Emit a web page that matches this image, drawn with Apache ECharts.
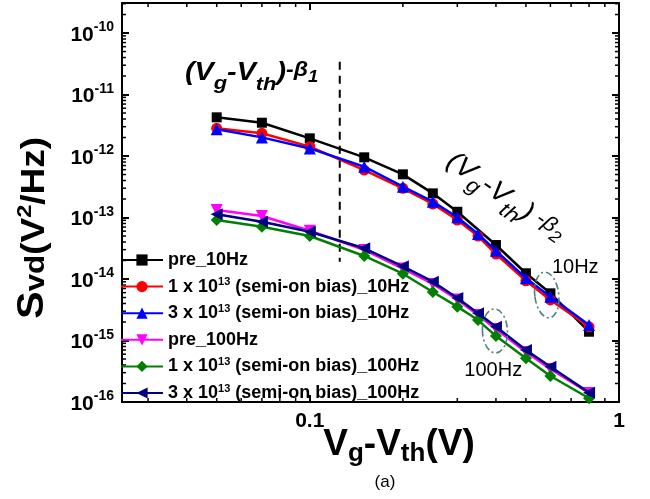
<!DOCTYPE html>
<html><head><meta charset="utf-8">
<script src="https://cdn.jsdelivr.net/npm/echarts@6/dist/echarts.min.js"></script>
<style>html,body{margin:0;padding:0;background:#fff}#c{width:650px;height:499px}</style>
</head><body><div id="c"></div>
<script>
// ---------------- data ----------------
const xValues = [0.05, 0.07, 0.1, 0.15, 0.2, 0.25, 0.3, 0.35, 0.4, 0.5, 0.6, 0.8];
const pre10Hz      = [4.26e-12, 3.48e-12, 1.94e-12, 9.53e-13, 5.04e-13, 2.47e-13, 1.24e-13, null,     3.57e-14, 1.24e-14, 5.85e-15, 1.39e-15];
const irr1e13_10Hz = [2.82e-12, 2.34e-12, 1.42e-12, 5.91e-13, 2.99e-13, 1.66e-13, 9.1e-14,  5.0e-14,  2.55e-14, 9.37e-15, 4.56e-15, 1.67e-15];
const irr3e13_10Hz = [2.72e-12, 2.01e-12, 1.33e-12, 6.70e-13, 3.17e-13, 1.81e-13, 1.01e-13, 5.40e-14, 2.88e-14, 1.03e-14, 5.15e-15, 1.79e-15];
const pre100Hz      = [1.32e-13, 1.06e-13, 6.1e-14,  2.97e-14, 1.48e-14, 8.3e-15,  4.65e-15, 2.60e-15, 1.54e-15, 6.5e-16,  3.44e-16, 1.40e-16];
const irr1e13_100Hz = [9.1e-14,  7.08e-14, 5.0e-14,  2.37e-14, 1.22e-14, 6.15e-15, 3.55e-15, 2.15e-15, 1.18e-15, 5.14e-16, 2.65e-16, 1.15e-16];
const irr3e13_100Hz = [1.13e-13, 8.55e-14, 5.87e-14, 3.16e-14, 1.61e-14, 9.04e-15, 4.91e-15, 2.77e-15, 1.67e-15, 7.02e-16, 3.75e-16, 1.42e-16];
const seriesNames = ['pre_10Hz', '1 x 10^13 (semi-on bias)_10Hz', '3 x 10^13 (semi-on bias)_10Hz',
                     'pre_100Hz', '1 x 10^13 (semi-on bias)_100Hz', '3 x 10^13 (semi-on bias)_100Hz'];
const xTickLabels = ['0.1', '1'];
const xMin = 0.0247, xMax = 1;
const yMin = 1e-16, yMax = 3.08e-10;
// annotation anchors (data coordinates)
const dashLineX = 0.125;
const dashLineY = [3.4e-11, 1.9e-14];
const ellipseCenters = [[0.584, 5.5e-15], [0.397, 1.43e-15]];
const freqLabels = [{text: '10Hz', x: 0.722, y: 1.55e-14}, {text: '100Hz', x: 0.392, y: 3.3e-16}];

// ---------------- chart ----------------
const FONT = '"Liberation Sans", Arial, sans-serif';
const chart = echarts.init(document.getElementById('c'), null, {renderer: 'canvas'});
const allY = [pre10Hz, irr1e13_10Hz, irr3e13_10Hz, pre100Hz, irr1e13_100Hz, irr3e13_100Hz];
const styles = [
  {color: '#000000', symbol: 'rect', size: 10, rot: 0},
  {color: '#ff0000', symbol: 'circle', size: 11, rot: 0},
  {color: '#0000ff', symbol: 'triangle', size: 12, rot: 0},
  {color: '#ff00ff', symbol: 'triangle', size: 12, rot: 180},
  {color: '#008000', symbol: 'diamond', size: 12, rot: 0},
  {color: '#000080', symbol: 'triangle', size: 12, rot: 90}
];
const series = allY.map((ys, i) => ({
  name: seriesNames[i], type: 'line',
  xAxisIndex: 0, yAxisIndex: 0,
  data: xValues.map((x, j) => [x, ys[j]]).filter(p => p[1] != null),
  symbol: styles[i].symbol, symbolSize: styles[i].size, symbolRotate: styles[i].rot,
  lineStyle: {color: styles[i].color, width: 2.5},
  itemStyle: {color: styles[i].color},
  animation: false, z: 2 + i
}));
series.push({
  name: 'dash', type: 'line', xAxisIndex: 0, yAxisIndex: 0,
  data: [[dashLineX, dashLineY[0]], [dashLineX, dashLineY[1]]],
  symbol: 'none', lineStyle: {color: '#000', width: 2, type: [8, 6]}, animation: false, z: 1
});

function isPow(v) { const l = Math.log10(v); return Math.abs(l - Math.round(l)) < 1e-6; }

const axisCommon = {
  axisLine: {show: true, onZero: false, lineStyle: {color: '#000', width: 2}},
  axisTick: {show: true, inside: true, length: 7, lineStyle: {color: '#000', width: 2}},
  splitLine: {show: false}, minorTick: {show: false}
};

chart.setOption({
  animation: false,
  backgroundColor: '#fff',
  grid: {left: 122, right: 31, top: 3, bottom: 97, containLabel: false, outerBoundsMode: 'none'},
  xAxis: [
    Object.assign({type: 'log', logBase: 10, min: xMin, max: xMax, position: 'bottom',
      axisLabel: {show: true, margin: 9, color: '#000', fontSize: 21, fontWeight: 'bold', fontFamily: FONT,
        showMinLabel: false,
        formatter: v => { if (!isPow(v)) return ''; const s = String(+v.toPrecision(3)); return xTickLabels.includes(s) ? s : ''; }}
    }, axisCommon),
    Object.assign({type: 'log', logBase: 10, min: xMin, max: xMax, position: 'top', axisLabel: {show: false}}, axisCommon)
  ],
  yAxis: [
    Object.assign({type: 'log', logBase: 10, min: yMin, max: yMax, position: 'left',
      axisLabel: {show: true, margin: 8, color: '#000', fontFamily: FONT, showMaxLabel: false,
        formatter: v => isPow(v) ? '{b|10}{e|' + Math.round(Math.log10(v)) + '}' : '',
        rich: {
          b: {fontSize: 21, fontWeight: 'bold', fontFamily: FONT, color: '#000', lineHeight: 25, verticalAlign: 'bottom'},
          e: {fontSize: 14, fontWeight: 'bold', fontFamily: FONT, color: '#000', lineHeight: 14, verticalAlign: 'top'}
        }}
    }, axisCommon),
    Object.assign({type: 'log', logBase: 10, min: yMin, max: yMax, position: 'right', axisLabel: {show: false}}, axisCommon)
  ],
  legend: {
    data: seriesNames, orient: 'vertical', left: 120, top: 250, padding: 0,
    itemWidth: 42, itemHeight: 14, itemGap: 6.6,
    textStyle: {fontSize: 18, fontWeight: 'bold', fontFamily: FONT, color: '#000', lineHeight: 20,
      rich: {sup: {fontSize: 11, fontWeight: 'bold', fontFamily: FONT, color: '#000', lineHeight: 11, verticalAlign: 'top'}}},
    formatter: n => n.replace('10^13', '10{sup|13}'),
    selectedMode: false
  },
  series: series
});

// ---------------- graphics ----------------
const X = v => chart.convertToPixel({xAxisIndex: 0}, v);
const Y = v => chart.convertToPixel({yAxisIndex: 0}, v);
const gL = X(xMin), gR = X(xMax), gT = Y(yMax), gB = Y(yMin);
const g = [];
const tickStyle = {stroke: '#000', lineWidth: 1.5};
const xMinor = [];
for (let e = -2; e <= -1; e++) for (let k = 2; k <= 9; k++) { const v = k * Math.pow(10, e); if (v > xMin && v < xMax) xMinor.push(v); }
xMinor.forEach(v => {
  const p = X(v);
  g.push({type: 'line', silent: true, shape: {x1: p, y1: gB, x2: p, y2: gB - 4}, style: tickStyle});
  g.push({type: 'line', silent: true, shape: {x1: p, y1: gT, x2: p, y2: gT + 4}, style: tickStyle});
});
const yMinor = [];
for (let e = -16; e <= -10; e++) for (let k = 2; k <= 9; k++) { const v = k * Math.pow(10, e); if (v > yMin && v < yMax) yMinor.push(v); }
yMinor.forEach(v => {
  const p = Y(v);
  g.push({type: 'line', silent: true, shape: {x1: gL, y1: p, x2: gL + 4, y2: p}, style: tickStyle});
  g.push({type: 'line', silent: true, shape: {x1: gR, y1: p, x2: gR - 4, y2: p}, style: tickStyle});
});

function richText(tokens, opt) {
  let B = 0;
  tokens.forEach(t => { B = Math.max(B, 0.85 * t.fs - t.off); });
  let text = ''; const rich = {};
  tokens.forEach((t, i) => {
    const name = 't' + i;
    rich[name] = {fontSize: t.fs, fontFamily: FONT, fontWeight: opt.weight || 'normal', fontStyle: opt.style || 'normal',
      lineHeight: t.fs, padding: [B + t.off - 0.85 * t.fs, 0, 0, 0], verticalAlign: 'top', fill: '#000'};
    text += '{' + name + '|' + t.t + '}';
  });
  return {text, rich, B};
}
function addText(x, baseline, tokens, opt) {
  const r = richText(tokens, opt);
  g.push({type: 'text', silent: true, x: x, y: baseline, rotation: opt.rotation || 0,
    scaleX: opt.scaleX || 1,
    style: {text: r.text, rich: r.rich, x: 0, y: -r.B, align: opt.align || 'left', verticalAlign: 'top', fill: '#000'}, z: 50});
}
// annotation 1: (Vg-Vth)^-β1
addText(185, 82, [
  {t: '(V', fs: 25, off: 0}, {t: 'g', fs: 19, off: 8}, {t: '-V', fs: 25, off: 0},
  {t: 'th', fs: 19, off: 9}, {t: ')', fs: 25, off: 0}, {t: '-β', fs: 20, off: -5}, {t: '1', fs: 16, off: 1}
], {weight: 'bold', style: 'italic', scaleX: 1.15});
// annotation 2 rotated
addText(444, 166, [
  {t: '(V', fs: 27, off: 0}, {t: 'g', fs: 21, off: 8}, {t: '-V', fs: 27, off: 0},
  {t: 'th', fs: 21, off: 9}, {t: ')', fs: 27, off: 0}, {t: ' -β', fs: 21, off: -5}, {t: '2', fs: 17, off: 1}
], {weight: 'normal', style: 'italic', rotation: -35 * Math.PI / 180, scaleX: 1.08});
// x axis title
addText(399, 458, [
  {t: 'V', fs: 37, off: 0}, {t: 'g', fs: 26, off: 5}, {t: '-V', fs: 37, off: 0},
  {t: 'th', fs: 26, off: 5}, {t: '(V)', fs: 37, off: 0}
], {weight: 'bold', align: 'center'});
// y axis title (rotated)
addText(46, 228, [
  {t: 'S', fs: 37, off: 0}, {t: 'vd', fs: 28, off: 0}, {t: '(V', fs: 33, off: 0},
  {t: '2', fs: 21, off: -13}, {t: '/Hz)', fs: 33, off: 0}
], {weight: 'bold', align: 'center', rotation: Math.PI / 2, scaleX: 1.12});
// (a)
g.push({type: 'text', silent: true, x: 385, y: 482, style: {text: '(a)', fontSize: 17, fontFamily: FONT, fill: '#000', align: 'center', verticalAlign: 'middle'}});
// frequency labels
freqLabels.forEach(f => g.push({type: 'text', silent: true, x: X(f.x), y: Y(f.y),
  style: {text: f.text, fontSize: 20, fontFamily: FONT, fill: '#000', align: 'center', verticalAlign: 'middle'}}));
// dashed ellipses
const ellStyle = {stroke: '#4e7f86', lineWidth: 1.6, fill: 'none', lineDash: [7, 3, 2, 3]};
g.push({type: 'ellipse', silent: true, x: X(ellipseCenters[0][0]), y: Y(ellipseCenters[0][1]), rotation: 0.12,
  shape: {cx: 0, cy: 0, rx: 12, ry: 23}, style: ellStyle, z: 40});
g.push({type: 'ellipse', silent: true, x: X(ellipseCenters[1][0]), y: Y(ellipseCenters[1][1]), rotation: 0.04,
  shape: {cx: 0, cy: 0, rx: 12.5, ry: 22}, style: ellStyle, z: 40});

chart.setOption({graphic: {elements: g}});
</script>
</body></html>
